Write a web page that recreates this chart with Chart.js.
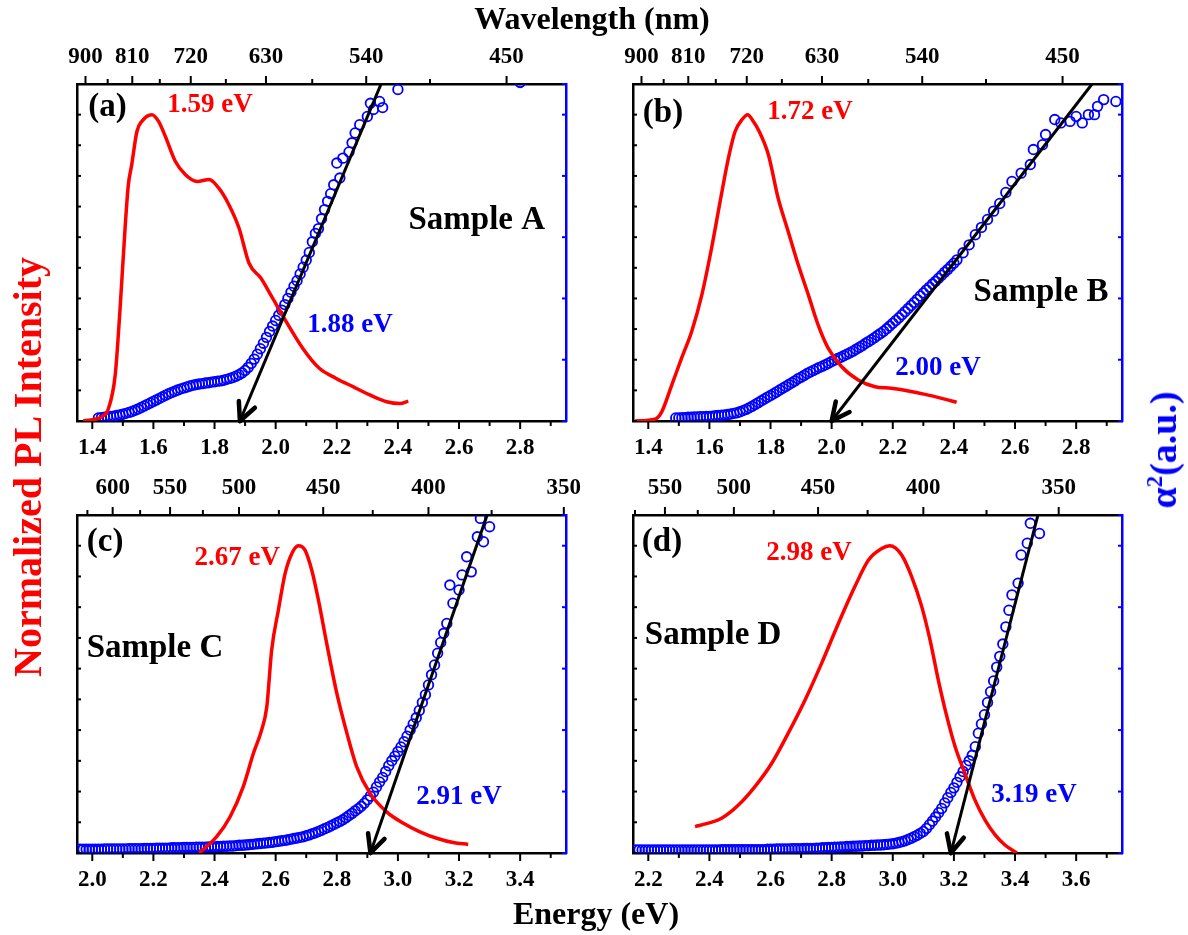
<!DOCTYPE html>
<html>
<head>
<meta charset="utf-8">
<script src="https://cdn.jsdelivr.net/npm/chart.js@4.4.0/dist/chart.umd.min.js"></script>
<style>
  html, body { margin: 0; padding: 0; background: #fff; }
  body { width: 1188px; height: 935px; position: relative; overflow: hidden;
         font-family: 'Liberation Serif', 'Times New Roman', serif; }
  canvas { position: absolute; }
  .lbl { position: absolute; transform: translate(-50%, -50%); font-weight: bold;
         white-space: nowrap; line-height: 1; color: #000; }
  .rot { transform: translate(-50%, -50%) rotate(-90deg); }
  sup { font-size: 0.6em; vertical-align: 0.6em; line-height: 0; }
</style>
</head>
<body>
<canvas id="pa" width="560" height="440" style="left:40px;top:30px"></canvas>
<canvas id="pb" width="560" height="440" style="left:600px;top:30px"></canvas>
<canvas id="pc" width="560" height="430" style="left:40px;top:470px"></canvas>
<canvas id="pd" width="560" height="430" style="left:600px;top:470px"></canvas>

<div class="lbl" style="left:592px;top:18px;font-size:32px">Wavelength (nm)</div>
<div class="lbl" style="left:596px;top:913px;font-size:32px">Energy (eV)</div>
<div class="lbl rot" style="left:28px;top:467px;font-size:40px;color:#ff0000">Normalized PL Intensity</div>
<div class="lbl rot" style="left:1163px;top:450px;font-size:38px;color:#0000ff">&alpha;<sup>2</sup>(a.u.)</div>

<script>
const RED = '#ff0000';
const BLUE = '#0000ff';
const FONT = "'Liberation Serif', 'Times New Roman', serif";

// axis ticks (energy in eV at the bottom, wavelength in nm on top)
const botTicksAB = [1.4, 1.5, 1.6, 1.7, 1.8, 1.9, 2.0, 2.1, 2.2, 2.3, 2.4, 2.5, 2.6, 2.7, 2.8, 2.9];
const botTicksC = [2.0, 2.1, 2.2, 2.3, 2.4, 2.5, 2.6, 2.7, 2.8, 2.9, 3.0, 3.1, 3.2, 3.3, 3.4, 3.5];
const botTicksD = [2.2, 2.3, 2.4, 2.5, 2.6, 2.7, 2.8, 2.9, 3.0, 3.1, 3.2, 3.3, 3.4, 3.5, 3.6, 3.7];
const topNmAB = [900, 855, 810, 765, 720, 675, 630, 585, 540, 495, 450];
const topLabAB = [900, 810, 720, 630, 540, 450];
const topNmC = [625, 600, 575, 550, 525, 500, 475, 450, 425, 400, 375, 350];
const topLabC = [600, 550, 500, 450, 400, 350];
const topNmD = [575, 550, 525, 500, 475, 450, 425, 400, 375, 350];
const topLabD = [550, 500, 450, 400, 350];

// (a) Sample A
const plA_E = [1.370, 1.431, 1.453, 1.475, 1.491, 1.508, 1.518, 1.529, 1.546, 1.562, 1.595, 1.617, 1.639, 1.672, 1.705, 1.743,
  1.782, 1.814, 1.847, 1.880, 1.913, 1.952, 1.990, 2.034, 2.089, 2.143, 2.198, 2.253, 2.308, 2.363, 2.407, 2.434];
const plA_I = [0.000, 0.014, 0.041, 0.150, 0.368, 0.640, 0.771, 0.836, 0.945, 0.978, 1.000, 0.978, 0.929, 0.847, 0.804, 0.782,
  0.788, 0.760, 0.706, 0.630, 0.515, 0.466, 0.401, 0.325, 0.237, 0.172, 0.139, 0.112, 0.085, 0.063, 0.057, 0.065];
const absA_E = [1.42, 1.43, 1.44, 1.45, 1.46, 1.47, 1.48, 1.49, 1.50, 1.51, 1.52, 1.53, 1.54, 1.55, 1.56, 1.57, 1.58, 1.59,
  1.60, 1.61, 1.62, 1.63, 1.64, 1.65, 1.66, 1.67, 1.68, 1.69, 1.70, 1.71, 1.72, 1.73, 1.74, 1.75, 1.76, 1.77, 1.78, 1.79,
  1.80, 1.81, 1.82, 1.83, 1.84, 1.85, 1.86, 1.87, 1.88, 1.89, 1.90, 1.91, 1.92, 1.93, 1.94, 1.95, 1.96, 1.97, 1.98, 1.99,
  2.00, 2.01, 2.02, 2.03, 2.04, 2.05, 2.06, 2.07, 2.08, 2.09, 2.10, 2.11, 2.12, 2.13, 2.14, 2.15, 2.16, 2.17, 2.18, 2.19,
  2.20, 2.21, 2.22, 2.24, 2.25, 2.26, 2.275, 2.30, 2.31, 2.32, 2.34, 2.35, 2.40, 2.80];
const absA_Y = [0.010, 0.011, 0.012, 0.013, 0.015, 0.016, 0.018, 0.020, 0.022, 0.025, 0.028, 0.031, 0.035, 0.039, 0.044,
  0.049, 0.054, 0.059, 0.064, 0.069, 0.074, 0.079, 0.084, 0.089, 0.093, 0.097, 0.101, 0.105, 0.108, 0.111, 0.114, 0.117,
  0.119, 0.121, 0.122, 0.124, 0.125, 0.127, 0.128, 0.130, 0.131, 0.133, 0.136, 0.139, 0.142, 0.146, 0.151, 0.157, 0.165,
  0.175, 0.188, 0.202, 0.218, 0.236, 0.254, 0.273, 0.292, 0.310, 0.328, 0.345, 0.362, 0.380, 0.400, 0.420, 0.440, 0.458,
  0.480, 0.502, 0.525, 0.550, 0.585, 0.612, 0.628, 0.660, 0.690, 0.717, 0.742, 0.771, 0.842, 0.793, 0.858, 0.878, 0.908,
  0.940, 0.967, 0.994, 1.037, 1.017, 1.043, 1.023, 1.082, 1.105];
const fitA_E = [2.345, 1.883];
const fitA_Y = [1.1, 0];

// (b) Sample B
const plB_E = [1.357, 1.422, 1.444, 1.477, 1.509, 1.542, 1.575, 1.607, 1.635, 1.662, 1.684, 1.706, 1.725, 1.745, 1.760, 1.793,
  1.825, 1.858, 1.891, 1.924, 1.956, 1.989, 2.033, 2.087, 2.142, 2.196, 2.251, 2.305, 2.360, 2.409];
const plB_I = [0.000, 0.006, 0.030, 0.118, 0.205, 0.292, 0.411, 0.564, 0.716, 0.857, 0.945, 0.983, 1.000, 0.976, 0.951, 0.869,
  0.727, 0.618, 0.509, 0.411, 0.313, 0.237, 0.177, 0.134, 0.112, 0.107, 0.098, 0.087, 0.074, 0.061];
const absB_E = [1.49, 1.50, 1.51, 1.52, 1.53, 1.54, 1.55, 1.56, 1.57, 1.58, 1.59, 1.60, 1.61, 1.62, 1.63, 1.64, 1.65, 1.66,
  1.67, 1.68, 1.69, 1.70, 1.71, 1.72, 1.73, 1.74, 1.75, 1.76, 1.77, 1.78, 1.79, 1.80, 1.81, 1.82, 1.83, 1.84, 1.85, 1.86,
  1.87, 1.88, 1.89, 1.90, 1.91, 1.92, 1.93, 1.94, 1.95, 1.96, 1.97, 1.98, 1.99, 2.00, 2.01, 2.02, 2.03, 2.04, 2.05, 2.06,
  2.07, 2.08, 2.09, 2.10, 2.11, 2.12, 2.13, 2.14, 2.15, 2.16, 2.17, 2.18, 2.19, 2.20, 2.21, 2.22, 2.23, 2.24, 2.25, 2.26,
  2.27, 2.28, 2.29, 2.30, 2.31, 2.32, 2.33, 2.34, 2.35, 2.36, 2.37, 2.38, 2.39, 2.40, 2.41, 2.43, 2.45, 2.47, 2.49, 2.51,
  2.53, 2.55, 2.57, 2.59, 2.62, 2.65, 2.66, 2.69, 2.70, 2.73, 2.75, 2.78, 2.80, 2.82, 2.84, 2.86, 2.87, 2.89, 2.93];
const absB_Y = [0.010, 0.010, 0.011, 0.011, 0.012, 0.012, 0.013, 0.013, 0.014, 0.014, 0.015, 0.015, 0.016, 0.017, 0.018,
  0.019, 0.020, 0.021, 0.023, 0.025, 0.027, 0.030, 0.034, 0.038, 0.043, 0.048, 0.054, 0.060, 0.066, 0.072, 0.078, 0.083,
  0.089, 0.095, 0.101, 0.107, 0.113, 0.119, 0.125, 0.131, 0.138, 0.143, 0.149, 0.155, 0.160, 0.165, 0.170, 0.175, 0.179,
  0.184, 0.189, 0.194, 0.199, 0.204, 0.208, 0.213, 0.218, 0.223, 0.228, 0.234, 0.240, 0.246, 0.253, 0.259, 0.265, 0.272,
  0.279, 0.286, 0.293, 0.301, 0.310, 0.319, 0.328, 0.337, 0.347, 0.357, 0.367, 0.377, 0.387, 0.397, 0.408, 0.418, 0.428,
  0.437, 0.447, 0.456, 0.466, 0.476, 0.486, 0.495, 0.505, 0.515, 0.526, 0.549, 0.575, 0.608, 0.632, 0.658, 0.685, 0.710,
  0.746, 0.782, 0.809, 0.837, 0.886, 0.902, 0.935, 0.984, 0.973, 0.978, 0.994, 0.973, 1.000, 1.000, 1.027, 1.049, 1.043];
const fitB_E = [2.852, 2.000];
const fitB_Y = [1.1, 0];

// (c) Sample C
const plC_E = [2.350, 2.407, 2.451, 2.494, 2.527, 2.554, 2.571, 2.587, 2.609, 2.631, 2.653, 2.674, 2.696, 2.718, 2.740, 2.767,
  2.800, 2.833, 2.865, 2.909, 2.963, 3.018, 3.072, 3.127, 3.181, 3.230];
const plC_I = [0.000, 0.053, 0.118, 0.216, 0.324, 0.400, 0.476, 0.661, 0.791, 0.910, 0.975, 1.000, 0.986, 0.921, 0.823, 0.682,
  0.520, 0.390, 0.281, 0.194, 0.134, 0.097, 0.069, 0.048, 0.034, 0.028];
const absC_E = [1.96, 1.97, 1.98, 1.99, 2.00, 2.01, 2.02, 2.03, 2.04, 2.05, 2.06, 2.07, 2.08, 2.09, 2.10, 2.11, 2.12, 2.13,
  2.14, 2.15, 2.16, 2.17, 2.18, 2.19, 2.20, 2.21, 2.22, 2.23, 2.24, 2.25, 2.26, 2.27, 2.28, 2.29, 2.30, 2.31, 2.32, 2.33,
  2.34, 2.35, 2.36, 2.37, 2.38, 2.39, 2.40, 2.41, 2.42, 2.43, 2.44, 2.45, 2.46, 2.47, 2.48, 2.49, 2.50, 2.51, 2.52, 2.53,
  2.54, 2.55, 2.56, 2.57, 2.58, 2.59, 2.60, 2.61, 2.62, 2.63, 2.64, 2.65, 2.66, 2.67, 2.68, 2.69, 2.70, 2.71, 2.72, 2.73,
  2.74, 2.75, 2.76, 2.77, 2.78, 2.79, 2.80, 2.81, 2.82, 2.83, 2.84, 2.85, 2.86, 2.87, 2.88, 2.89, 2.90, 2.91, 2.92, 2.93,
  2.94, 2.95, 2.96, 2.97, 2.98, 2.99, 3.00, 3.01, 3.02, 3.03, 3.04, 3.05, 3.06, 3.07, 3.08, 3.09, 3.10, 3.11, 3.12, 3.13,
  3.14, 3.15, 3.16, 3.17, 3.18, 3.20, 3.21, 3.225, 3.24, 3.26, 3.27, 3.28, 3.30];
const absC_Y = [0.012, 0.012, 0.012, 0.012, 0.012, 0.012, 0.012, 0.012, 0.013, 0.013, 0.013, 0.013, 0.013, 0.013, 0.013,
  0.013, 0.014, 0.014, 0.014, 0.014, 0.014, 0.015, 0.015, 0.015, 0.015, 0.016, 0.016, 0.016, 0.016, 0.016, 0.017, 0.017,
  0.017, 0.017, 0.018, 0.018, 0.018, 0.018, 0.019, 0.019, 0.019, 0.019, 0.020, 0.020, 0.020, 0.021, 0.021, 0.022, 0.022,
  0.023, 0.023, 0.024, 0.025, 0.025, 0.026, 0.027, 0.028, 0.029, 0.030, 0.031, 0.032, 0.033, 0.034, 0.035, 0.037, 0.038,
  0.040, 0.041, 0.043, 0.045, 0.047, 0.049, 0.051, 0.053, 0.056, 0.059, 0.063, 0.066, 0.070, 0.074, 0.079, 0.083, 0.088,
  0.093, 0.098, 0.103, 0.108, 0.115, 0.122, 0.129, 0.137, 0.144, 0.152, 0.162, 0.173, 0.185, 0.198, 0.215, 0.231, 0.246,
  0.265, 0.284, 0.300, 0.315, 0.330, 0.345, 0.362, 0.380, 0.400, 0.420, 0.440, 0.464, 0.490, 0.515, 0.547, 0.580, 0.612,
  0.650, 0.685, 0.715, 0.747, 0.872, 0.813, 0.856, 0.905, 0.964, 0.915, 1.029, 1.089, 1.013, 1.062];
const fitC_E = [3.292, 2.910];
const fitC_Y = [1.1, 0];

// (d) Sample D
const plD_E = [2.353, 2.396, 2.440, 2.495, 2.549, 2.604, 2.658, 2.713, 2.767, 2.822, 2.876, 2.920, 2.964, 2.990, 3.029, 3.062,
  3.095, 3.122, 3.149, 3.177, 3.204, 3.236, 3.269, 3.302, 3.335, 3.367, 3.406];
const plD_I = [0.086, 0.097, 0.113, 0.156, 0.216, 0.292, 0.390, 0.498, 0.617, 0.747, 0.867, 0.953, 0.991, 1.000, 0.970, 0.899,
  0.801, 0.693, 0.563, 0.444, 0.346, 0.259, 0.172, 0.107, 0.059, 0.026, 0.000];
const absD_E = [2.16, 2.17, 2.18, 2.19, 2.20, 2.21, 2.22, 2.23, 2.24, 2.25, 2.26, 2.27, 2.28, 2.29, 2.30, 2.31, 2.32, 2.33,
  2.34, 2.35, 2.36, 2.37, 2.38, 2.39, 2.40, 2.41, 2.42, 2.43, 2.44, 2.45, 2.46, 2.47, 2.48, 2.49, 2.50, 2.51, 2.52, 2.53,
  2.54, 2.55, 2.56, 2.57, 2.58, 2.59, 2.60, 2.61, 2.62, 2.63, 2.64, 2.65, 2.66, 2.67, 2.68, 2.69, 2.70, 2.71, 2.72, 2.73,
  2.74, 2.75, 2.76, 2.77, 2.78, 2.79, 2.80, 2.81, 2.82, 2.83, 2.84, 2.85, 2.86, 2.87, 2.88, 2.89, 2.90, 2.91, 2.92, 2.93,
  2.94, 2.95, 2.96, 2.97, 2.98, 2.99, 3.00, 3.01, 3.02, 3.03, 3.04, 3.05, 3.06, 3.07, 3.08, 3.09, 3.10, 3.11, 3.12, 3.13,
  3.14, 3.15, 3.16, 3.17, 3.18, 3.19, 3.20, 3.21, 3.22, 3.23, 3.24, 3.25, 3.26, 3.27, 3.28, 3.29, 3.30, 3.31, 3.32, 3.33,
  3.34, 3.35, 3.36, 3.37, 3.38, 3.39, 3.41, 3.42, 3.44, 3.45, 3.48];
const absD_Y = [0.010, 0.010, 0.010, 0.010, 0.010, 0.010, 0.010, 0.010, 0.010, 0.010, 0.010, 0.010, 0.010, 0.010, 0.010,
  0.010, 0.010, 0.010, 0.010, 0.010, 0.010, 0.010, 0.010, 0.010, 0.010, 0.010, 0.010, 0.010, 0.011, 0.011, 0.011, 0.011,
  0.011, 0.011, 0.011, 0.011, 0.011, 0.011, 0.011, 0.011, 0.011, 0.011, 0.011, 0.012, 0.012, 0.012, 0.013, 0.013, 0.013,
  0.013, 0.013, 0.014, 0.014, 0.014, 0.014, 0.015, 0.015, 0.015, 0.015, 0.016, 0.016, 0.017, 0.017, 0.018, 0.018, 0.019,
  0.019, 0.020, 0.020, 0.021, 0.021, 0.022, 0.022, 0.023, 0.023, 0.024, 0.024, 0.025, 0.025, 0.026, 0.026, 0.027, 0.028,
  0.029, 0.030, 0.032, 0.034, 0.037, 0.040, 0.044, 0.048, 0.053, 0.058, 0.064, 0.070, 0.080, 0.092, 0.104, 0.117, 0.131,
  0.145, 0.163, 0.180, 0.197, 0.212, 0.230, 0.248, 0.265, 0.285, 0.300, 0.318, 0.346, 0.390, 0.420, 0.450, 0.490, 0.525,
  0.560, 0.605, 0.640, 0.680, 0.736, 0.790, 0.840, 0.878, 0.970, 1.008, 1.073, 1.040];
const fitD_E = [3.475, 3.190];
const fitD_Y = [1.1, 0];

function pairs(xs, ys) {
  return xs.map((x, i) => ({ x, y: ys[i] }));
}

// short tick marks: outward on the energy / wavelength axes, inward on the intensity axes
const axisMarks = {
  id: 'axisMarks',
  afterDraw(chart) {
    const { ctx, chartArea: a, scales } = chart;
    const mark = (x1, y1, x2, y2) => {
      ctx.beginPath();
      ctx.moveTo(x1, y1);
      ctx.lineTo(x2, y2);
      ctx.stroke();
    };
    ctx.save();
    ctx.lineWidth = 2;
    ctx.strokeStyle = '#000';
    scales.x.ticks.forEach((t) => {
      const px = scales.x.getPixelForValue(t.value);
      mark(px, a.bottom, px, a.bottom + (t.label ? 8 : 5));
    });
    scales.x2.ticks.forEach((t) => {
      const px = scales.x2.getPixelForValue(t.value);
      mark(px, a.top, px, a.top - (t.label ? 8 : 5));
    });
    scales.y.ticks.forEach((t) => {
      const py = scales.y.getPixelForValue(t.value);
      mark(a.left, py, a.left + 4, py);
    });
    ctx.strokeStyle = BLUE;
    scales.y2.ticks.forEach((t) => {
      const py = scales.y2.getPixelForValue(t.value);
      mark(a.right, py, a.right - 4, py);
    });
    ctx.restore();
  },
};

// arrow head at the end of the linear fit
const arrowHead = {
  id: 'arrowHead',
  afterDatasetsDraw(chart) {
    const ctx = chart.ctx;
    chart.data.datasets.forEach((ds, i) => {
      if (!ds.isArrow) return;
      const pts = chart.getDatasetMeta(i).data;
      const p0 = pts[pts.length - 2];
      const p1 = pts[pts.length - 1];
      const ang = Math.atan2(p1.y - p0.y, p1.x - p0.x);
      ctx.save();
      ctx.strokeStyle = '#000';
      ctx.lineWidth = 4.5;
      ctx.lineCap = 'round';
      [0.45, -0.45].forEach((d) => {
        ctx.beginPath();
        ctx.moveTo(p1.x, p1.y);
        ctx.lineTo(p1.x - 20 * Math.cos(ang + d), p1.y - 20 * Math.sin(ang + d));
        ctx.stroke();
      });
      ctx.restore();
    });
  },
};

function makePanel(id, p) {
  const tickFont = { family: FONT, size: 23, weight: 'bold' };
  const noGrid = { display: false, drawTicks: false };
  const notes = {
    id: 'notes',
    afterDatasetsDraw(chart) {
      const ctx = chart.ctx;
      ctx.save();
      ctx.textAlign = 'center';
      ctx.textBaseline = 'middle';
      p.notes.forEach(([text, e, v, color, size]) => {
        ctx.font = `bold ${size}px ${FONT}`;
        ctx.fillStyle = color;
        ctx.fillText(text, chart.scales.x.getPixelForValue(e), chart.scales.y.getPixelForValue(v));
      });
      ctx.restore();
    },
  };

  return new Chart(document.getElementById(id), {
    type: 'scatter',
    data: {
      datasets: [
        {
          data: pairs(p.fitE, p.fitY),
          yAxisID: 'y2',
          showLine: true,
          borderColor: '#000',
          borderWidth: 3,
          pointRadius: 0,
          isArrow: true,
        },
        {
          data: pairs(p.plE, p.plI),
          yAxisID: 'y',
          showLine: true,
          borderColor: RED,
          borderWidth: 3.5,
          pointRadius: 0,
          cubicInterpolationMode: 'monotone',
        },
        {
          data: pairs(p.absE, p.absY),
          yAxisID: 'y2',
          showLine: false,
          pointRadius: 4.8,
          pointBorderWidth: 1.8,
          pointBorderColor: BLUE,
          pointBackgroundColor: 'rgba(0,0,0,0)',
          clip: 0,
        },
      ],
    },
    options: {
      responsive: false,
      animation: false,
      devicePixelRatio: 1,
      events: [],
      layout: { padding: 0 },
      plugins: { legend: { display: false }, tooltip: { enabled: false } },
      scales: {
        x: {
          type: 'linear',
          position: 'bottom',
          min: p.min,
          max: p.max,
          afterBuildTicks: (s) => { s.ticks = p.botTicks.map((v) => ({ value: v })); },
          afterFit: (s) => { s.height = p.xH; },
          grid: noGrid,
          border: { color: '#000', width: 2.5 },
          ticks: {
            autoSkip: false, maxRotation: 0, minRotation: 0, padding: 13, color: '#000', font: tickFont,
            callback: (v, i) => (i % 2 === 0 ? v.toFixed(1) : ''),
          },
        },
        x2: {
          type: 'linear',
          position: 'top',
          min: p.min,
          max: p.max,
          afterBuildTicks: (s) => { s.ticks = p.topNm.map((nm) => ({ value: 1240 / nm, nm })); },
          afterFit: (s) => { s.height = p.x2H; },
          grid: noGrid,
          border: { color: '#000', width: 2.5 },
          ticks: {
            autoSkip: false, maxRotation: 0, minRotation: 0, padding: 13, color: '#000', font: tickFont,
            callback: (v, i, ticks) => (p.topLab.includes(ticks[i].nm) ? String(ticks[i].nm) : ''),
          },
        },
        y: {
          type: 'linear',
          position: 'left',
          min: 0,
          max: 1.1,
          afterFit: (s) => { s.width = p.yW; },
          grid: noGrid,
          border: { color: '#000', width: 2.5 },
          ticks: { display: false, stepSize: 0.1 },
        },
        y2: {
          type: 'linear',
          position: 'right',
          min: 0,
          max: 1.1,
          afterFit: (s) => { s.width = p.y2W; },
          grid: noGrid,
          border: { color: BLUE, width: 2.5 },
          ticks: { display: false, stepSize: 0.2 },
        },
      },
    },
    plugins: [axisMarks, arrowHead, notes],
  });
}

makePanel('pa', {
  min: 1.35, max: 2.95, botTicks: botTicksAB, topNm: topNmAB, topLab: topLabAB,
  plE: plA_E, plI: plA_I, absE: absA_E, absY: absA_Y, fitE: fitA_E, fitY: fitA_Y,
  yW: 37, y2W: 34, x2H: 54, xH: 49,
  notes: [
    ['(a)', 1.45, 1.022, '#000', 33],
    ['1.59 eV', 1.785, 1.031, RED, 27],
    ['Sample A', 2.658, 0.656, '#000', 33],
    ['1.88 eV', 2.243, 0.313, BLUE, 27],
  ],
});

makePanel('pb', {
  min: 1.35, max: 2.95, botTicks: botTicksAB, topNm: topNmAB, topLab: topLabAB,
  plE: plB_E, plI: plB_I, absE: absB_E, absY: absB_Y, fitE: fitB_E, fitY: fitB_Y,
  yW: 33, y2W: 38, x2H: 54, xH: 49,
  notes: [
    ['(b)', 1.448, 1.005, '#000', 33],
    ['1.72 eV', 1.929, 1.008, RED, 27],
    ['Sample B', 2.685, 0.418, '#000', 33],
    ['2.00 eV', 2.348, 0.173, BLUE, 27],
  ],
});

makePanel('pc', {
  min: 1.95, max: 3.55, botTicks: botTicksC, topNm: topNmC, topLab: topLabC,
  plE: plC_E, plI: plC_I, absE: absC_E, absY: absC_Y, fitE: fitC_E, fitY: fitC_Y,
  yW: 37, y2W: 34, x2H: 45, xH: 47,
  notes: [
    ['(c)', 2.042, 1.012, '#000', 33],
    ['2.67 eV', 2.474, 0.96, RED, 27],
    ['Sample C', 2.205, 0.667, '#000', 33],
    ['2.91 eV', 3.20, 0.182, BLUE, 27],
  ],
});

makePanel('pd', {
  min: 2.15, max: 3.75, botTicks: botTicksD, topNm: topNmD, topLab: topLabD,
  plE: plD_E, plI: plD_I, absE: absD_E, absY: absD_Y, fitE: fitD_E, fitY: fitD_Y,
  yW: 33, y2W: 38, x2H: 45, xH: 47,
  notes: [
    ['(d)', 2.245, 1.009, '#000', 33],
    ['2.98 eV', 2.726, 0.976, RED, 27],
    ['Sample D', 2.412, 0.709, '#000', 33],
    ['3.19 eV', 3.462, 0.189, BLUE, 27],
  ],
});
</script>
</body>
</html>
